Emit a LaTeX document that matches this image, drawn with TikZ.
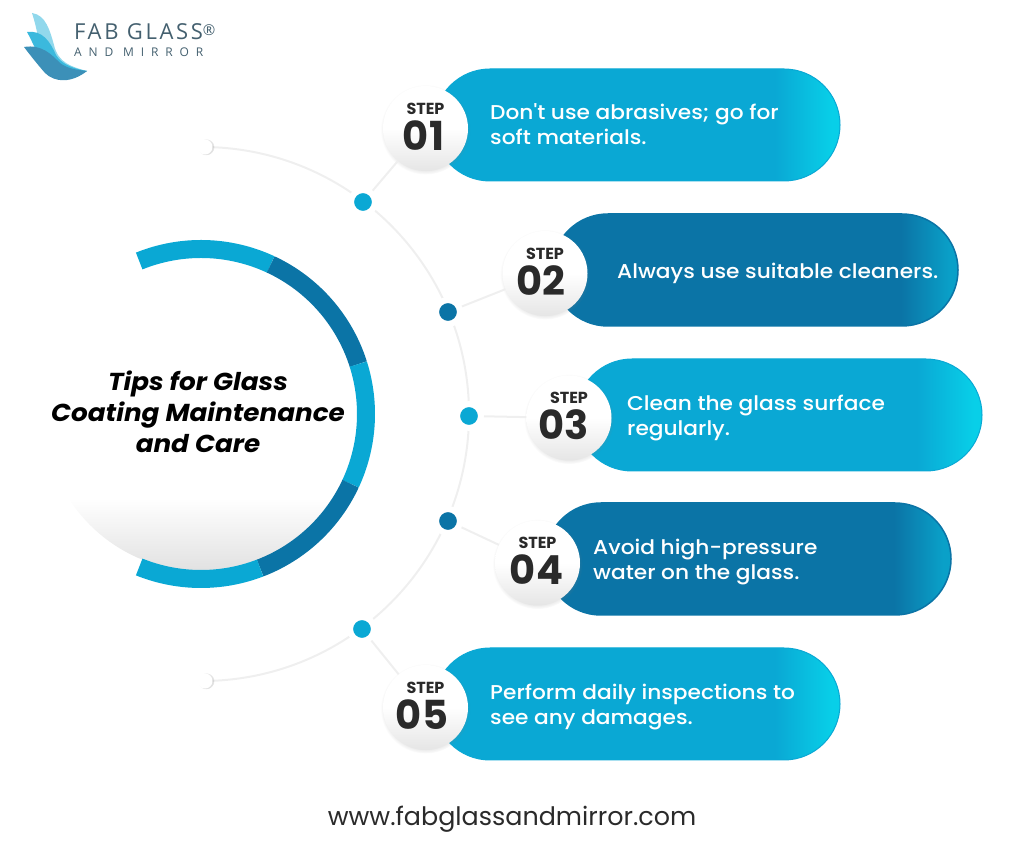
\documentclass[tikz,border=0pt]{standalone}
\usepackage{fontspec}
\setmainfont{Poppins}
\newfontfamily\logofont{Open Sans}
\newfontfamily\stepfont[FakeStretch=1.085]{Poppins Medium}
\usetikzlibrary{positioning,shapes.misc,shadows}
\definecolor{stepCyan}{HTML}{0AA8D4}
\definecolor{stepCyanEnd}{HTML}{08CFE8}
\definecolor{stepBlue}{HTML}{0B74A6}
\definecolor{stepBlueEnd}{HTML}{0AA0C8}
\definecolor{linkGray}{HTML}{EFEFEF}
\definecolor{inkDark}{HTML}{2A2A2A}
\definecolor{logoInk}{HTML}{44606F}
\pgfdeclarehorizontalshading{pillcyanshade}{100bp}{color(0bp)=(stepCyan); color(25bp)=(stepCyan); color(67bp)=(stepCyan); color(74bp)=(stepCyanEnd); color(100bp)=(stepCyanEnd)}
\pgfdeclarehorizontalshading{pillblueshade}{100bp}{color(0bp)=(stepBlue); color(25bp)=(stepBlue); color(68bp)=(stepBlue); color(74bp)=(stepBlueEnd); color(100bp)=(stepBlueEnd)}
\tikzset{
  pillcyan/.style={rounded rectangle, inner sep=0, minimum width=406pt, minimum height=112pt, shading=pillcyanshade, draw=stepCyan, line width=1pt},
  pillblue/.style={rounded rectangle, inner sep=0, minimum width=406pt, minimum height=112pt, shading=pillblueshade, draw=stepBlue, line width=1.5pt},
  stepball/.style={circle, inner sep=0, minimum size=85pt, top color=white, bottom color=black!10, middle color=white, circular drop shadow={shadow xshift=0pt, shadow yshift=-1pt, shadow scale=1.06, opacity=.25}, align=center, text=inkDark},
  ringdot/.style={circle, inner sep=0, minimum size=24pt, line width=6pt, draw=white, circular drop shadow={shadow xshift=0pt, shadow yshift=0pt, shadow scale=1.15, opacity=.2}},
  enddot/.style={circle, fill=white, inner sep=0, minimum size=15pt, circular drop shadow={shadow xshift=1pt, shadow yshift=0pt, shadow scale=1.12, opacity=.25}},
  steptext/.style={anchor=west, align=left, inner sep=0, text=white, font=\stepfont\fontsize{20}{25.5}\selectfont},
  linkline/.style={line width=2pt, linkGray},
  ringpart/.style={line width=18pt},
}
\newcommand{\stepnum}[2]{{\fontsize{16}{16}\selectfont\bfseries STEP}\\[5pt]{\fontsize{40}{38}\selectfont\bfseries #1\hspace*{#2}\rule[-4pt]{0pt}{0pt}}}
\begin{document}
\begin{tikzpicture}[x=1pt,y=1pt]
  \useasboundingbox (0,0) rectangle (1024,853);

  % logo
  \fill[stepCyan!45] (32,840) .. controls (46,838) and (50,822) .. (54,808) .. controls (58,790) and (72,786) .. (87,782) .. controls (70,775) and (50,780) .. (42,800) .. controls (38,815) and (36,828) .. (32,840);
  \fill[stepCyan!80] (27,821) .. controls (42,823) and (50,812) .. (56,798) .. controls (62,788) and (75,784) .. (87,782) .. controls (70,772) and (50,778) .. (40,796) .. controls (35,804) and (32,812) .. (27,821);
  \fill[stepBlue!80] (24,806) .. controls (42,809) and (52,798) .. (60,790) .. controls (68,784) and (78,783) .. (87,782) .. controls (72,770) and (55,770) .. (45,780) .. controls (38,788) and (30,798) .. (24,806);
  \node[anchor=west, inner sep=0, text=logoInk, font=\logofont\fontsize{22}{22}\selectfont\addfontfeature{LetterSpace=12}] (logoTop) at (74,821) {FAB GLASS\raisebox{4pt}{\fontsize{15}{15}\selectfont®}};
  \node[anchor=west, inner sep=0, text=logoInk, font=\logofont\fontsize{12}{12}\selectfont\addfontfeature{LetterSpace=57}] (logoBottom) at (74,801) {AND MIRROR};

  % title circle
  \coordinate (ringC) at (201,439);
  \begin{scope}
    \clip (ringC) circle (157pt);
    \shade[top color=white, bottom color=black!12] (40,355) rectangle (360,280);
  \end{scope}
  \draw[ringpart, stepCyan] (ringC) ++(112:165pt) arc[start angle=112, end angle=65, radius=165pt];
  \draw[ringpart, stepBlue] (ringC) ++(65:165pt) arc[start angle=65, end angle=17.6, radius=165pt];
  \draw[ringpart, stepCyan] (ringC) ++(17.6:165pt) arc[start angle=17.6, end angle=-25, radius=165pt];
  \draw[ringpart, stepBlue] (ringC) ++(-25:165pt) arc[start angle=-25, end angle=-69, radius=165pt];
  \draw[ringpart, stepCyan] (ringC) ++(-69:165pt) arc[start angle=-69, end angle=-112, radius=165pt];
  \node[align=center, inner sep=0, text=black, font=\fontsize{24.5}{31}\selectfont\bfseries\itshape\addfontfeature{FakeStretch=1.07}] (title) at (198,441) {Tips for Glass\\Coating Maintenance\\and Care};

  % long arc
  \coordinate (arcC) at (202,439);
  \draw[linkline] (arcC) ++(90:267pt) arc[start angle=90, end angle=-90, radius=267pt];

  \node[enddot] (endTop) at (205,706) {};
  \node[enddot] (endBottom) at (205,172) {};

  % pills
  \node[pillcyan] (pill1) at (637,728) {};
  \node[pillblue] (pill2) at (755,583) {};
  \node[pillcyan] (pill3) at (779,438) {};
  \node[pillblue] (pill4) at (748,294) {};
  \node[pillcyan] (pill5) at (637,149) {};

  \node[stepball] (step1) at (425.5,724.5) {\stepnum{01}{4pt}};
  \node[stepball] (step2) at (545,579.5) {\stepnum{02}{8pt}};
  \node[stepball] (step3) at (569,435) {\stepnum{03}{10pt}};
  \node[stepball] (step4) at (537.5,290) {\stepnum{04}{2pt}};
  \node[stepball] (step5) at (425.5,145.5) {\stepnum{05}{7pt}};

  \node[ringdot, fill=stepCyan] (dot1) at (363,651) {};
  \node[ringdot, fill=stepBlue] (dot2) at (448,541) {};
  \node[ringdot, fill=stepCyan] (dot3) at (469,437) {};
  \node[ringdot, fill=stepBlue] (dot4) at (448,332) {};
  \node[ringdot, fill=stepCyan] (dot5) at (362,224) {};

  \draw[linkline] (dot1) -- (step1);
  \draw[linkline] (dot2) -- (step2);
  \draw[linkline] (dot3) -- (step3);
  \draw[linkline] (dot4) -- (step4);
  \draw[linkline] (dot5) -- (step5);

  \node[steptext] (text1) at (490,729) {Don{\char"27}t use abrasives; go for\\soft materials.};
  \node[steptext] (text2) at (617,580) {Always use suitable cleaners.};
  \node[steptext] (text3) at (627,435) {Clean the glass surface\\regularly.};
  \node[steptext] (text4) at (593,291) {Avoid high-pressure\\water on the glass.};
  \node[steptext] (text5) at (490,146) {Perform daily inspections to\\see any damages.};

  \node[inner sep=0, text=inkDark, font=\fontsize{25.4}{25}\selectfont] (site) at (512,34) {www.fabglassandmirror.com};
\end{tikzpicture}
\end{document}
